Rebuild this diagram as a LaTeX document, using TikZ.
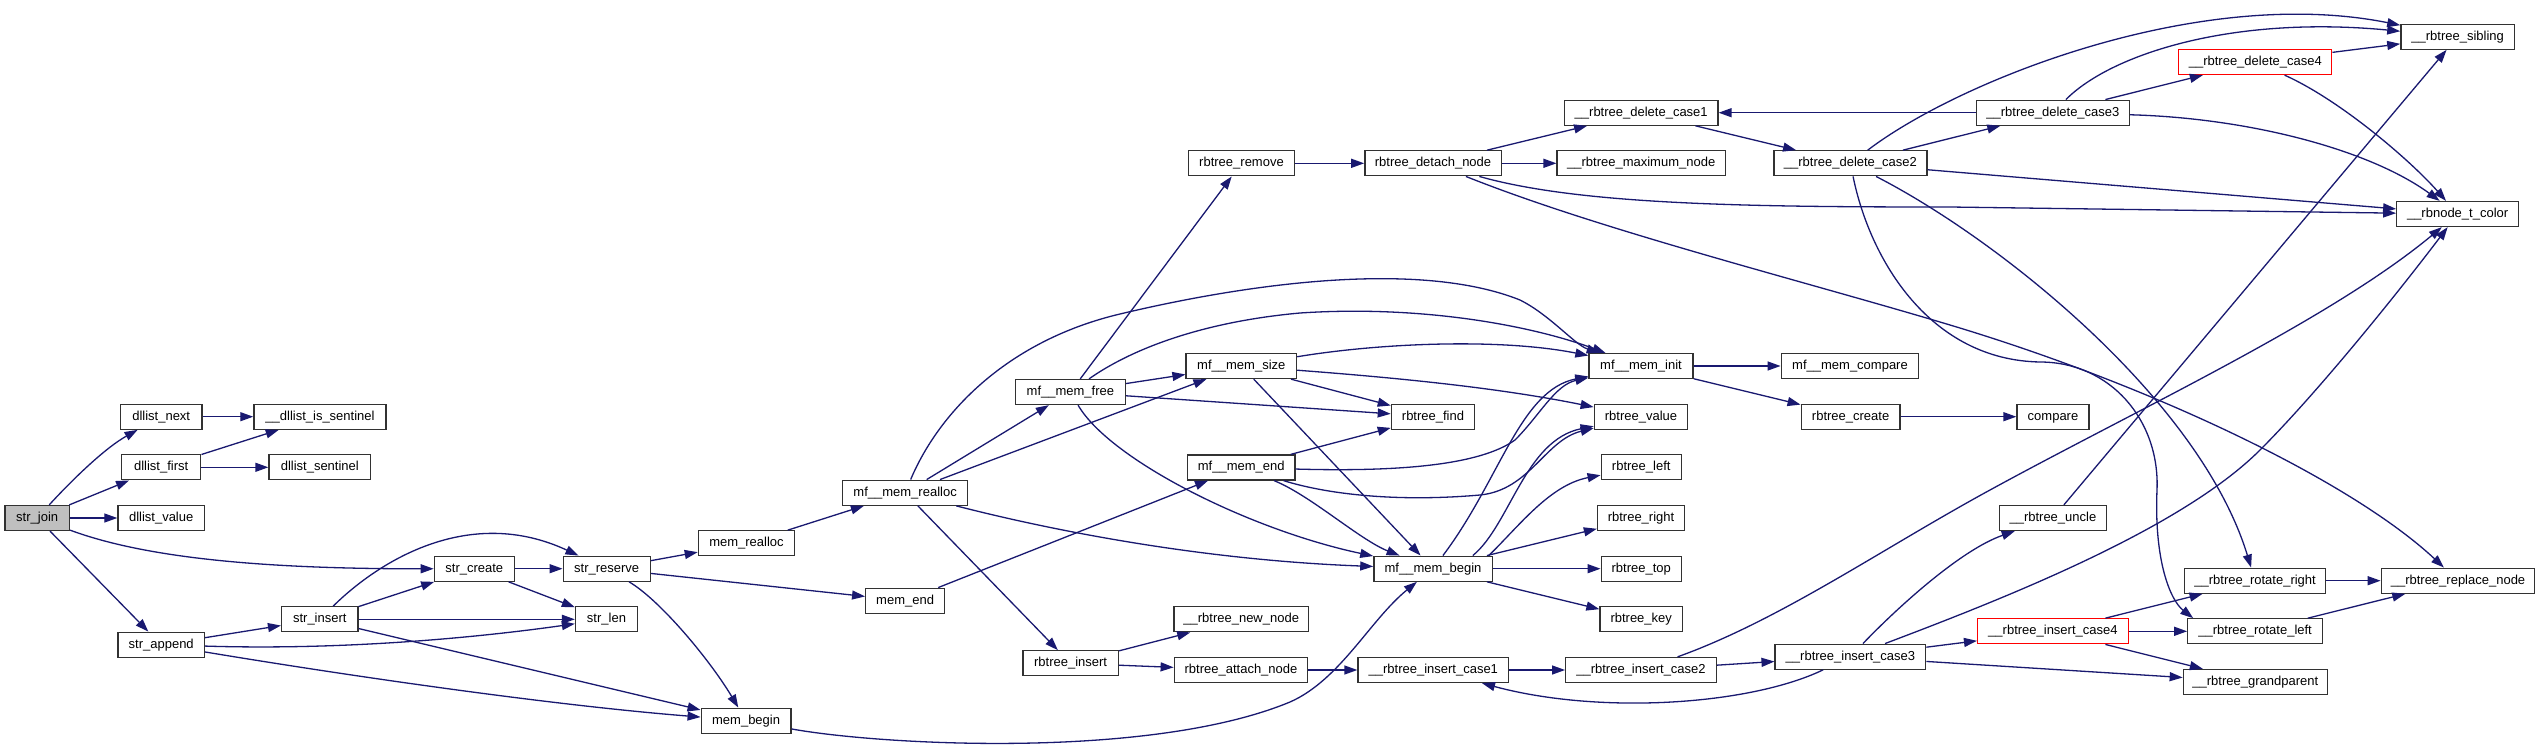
\documentclass[tikz,border=0pt]{standalone}
\usepackage{fontspec}
\setmainfont{Liberation Sans}
\usetikzlibrary{arrows.meta}
\definecolor{edgec}{RGB}{25,25,112}
\definecolor{rootfill}{RGB}{191,191,191}
\definecolor{nodeborder}{RGB}{50,50,50}
\begin{document}
\begin{tikzpicture}[x=1pt,y=-1pt,
  box/.style={draw=nodeborder, line width=1.3pt, fill=white, minimum height=25pt,
    inner sep=0pt, font=\fontsize{13}{15}\selectfont, text height=9.5pt, text depth=2.8pt},
  rootbox/.style={box, fill=rootfill},
  redbox/.style={box, draw=red},
  edg/.style={draw=edgec, line width=1.3pt, -{Triangle[length=13pt,width=9pt]}}]
\useasboundingbox[fill=white] (0,0) rectangle (2541,755);
% column 0-2
\node[rootbox, minimum width=64.5pt] (sj) at (37.2,518) {str\_join};
\node[box, minimum width=81.6pt] (dnext) at (161.2,416.7) {dllist\_next};
\node[box, minimum width=79.2pt] (dfirst) at (161.2,467.3) {dllist\_first};
\node[box, minimum width=86.5pt] (dvalue) at (161.2,518) {dllist\_value};
\node[box, minimum width=86.5pt] (sappend) at (161.2,644.7) {str\_append};
\node[box, minimum width=132.2pt] (dsent) at (320,416.7) {\_\_dllist\_is\_sentinel};
\node[box, minimum width=101.6pt] (dsentinel) at (319.8,467.3) {dllist\_sentinel};
\node[box, minimum width=76.4pt] (sinsert) at (319.8,619.3) {str\_insert};
\node[box, minimum width=80pt] (screate) at (474.3,568.7) {str\_create};
\node[box, minimum width=87pt] (sreserve) at (606.7,568.7) {str\_reserve};
\node[box, minimum width=62pt] (slen) at (606.5,619.3) {str\_len};
\node[box, minimum width=96.3pt] (mrealloc) at (746.5,543.3) {mem\_realloc};
\node[box, minimum width=89.8pt] (mbegin) at (746.1,720.7) {mem\_begin};
\node[box, minimum width=125.4pt] (mfrealloc) at (905.1,492.7) {mf\_\_mem\_realloc};
\node[box, minimum width=78.8pt] (mend) at (905.1,600.7) {mem\_end};
\node[box, minimum width=109.8pt] (mffree) at (1070.4,392) {mf\_\_mem\_free};
\node[box, minimum width=95.5pt] (rinsert) at (1070.6,663.3) {rbtree\_insert};
\node[box, minimum width=105.7pt] (rremove) at (1241.5,163.3) {rbtree\_remove};
\node[box, minimum width=110.5pt] (mfsize) at (1241.3,366) {mf\_\_mem\_size};
\node[box, minimum width=107.7pt] (mfend) at (1241.2,467.5) {mf\_\_mem\_end};
\node[box, minimum width=134.7pt] (newnode) at (1241.2,619.3) {\_\_rbtree\_new\_node};
\node[box, minimum width=133.5pt] (attach) at (1241,670) {rbtree\_attach\_node};
\node[box, minimum width=136.3pt] (detach) at (1433,163.3) {rbtree\_detach\_node};
\node[box, minimum width=83.3pt] (rfind) at (1433,416.7) {rbtree\_find};
\node[box, minimum width=118.3pt] (mfbegin) at (1433,568.7) {mf\_\_mem\_begin};
\node[box, minimum width=150.6pt] (ic1) at (1433.3,670) {\_\_rbtree\_insert\_case1};
\node[box, minimum width=153.5pt] (dc1) at (1641.2,112.7) {\_\_rbtree\_delete\_case1};
\node[box, minimum width=168.2pt] (maxnode) at (1641.2,163.3) {\_\_rbtree\_maximum\_node};
\node[box, minimum width=104pt] (mfinit) at (1641,366) {mf\_\_mem\_init};
\node[box, minimum width=93.5pt] (rvalue) at (1641,416.7) {rbtree\_value};
\node[box, minimum width=80pt] (rleft) at (1641.2,467.3) {rbtree\_left};
\node[box, minimum width=87pt] (rright) at (1641,518) {rbtree\_right};
\node[box, minimum width=80pt] (rtop) at (1641.2,568.7) {rbtree\_top};
\node[box, minimum width=82.4pt] (rkey) at (1641.2,619.3) {rbtree\_key};
\node[box, minimum width=150.6pt] (ic2) at (1641,670) {\_\_rbtree\_insert\_case2};
\node[box, minimum width=153pt] (dc2) at (1850.4,163.3) {\_\_rbtree\_delete\_case2};
\node[box, minimum width=137.6pt] (mfcompare) at (1850,366) {mf\_\_mem\_compare};
\node[box, minimum width=98.8pt] (rcreate) at (1850.6,416.7) {rbtree\_create};
\node[box, minimum width=150.6pt] (ic3) at (1850.4,656.7) {\_\_rbtree\_insert\_case3};
\node[box, minimum width=153pt] (dc3) at (2052.9,112.7) {\_\_rbtree\_delete\_case3};
\node[box, minimum width=72pt] (cmp) at (2053,416.7) {compare};
\node[box, minimum width=106.5pt] (uncle) at (2052.9,518) {\_\_rbtree\_uncle};
\node[redbox, minimum width=150.6pt] (ic4) at (2052.9,631.3) {\_\_rbtree\_insert\_case4};
\node[redbox, minimum width=153pt] (dc4) at (2255.3,62) {\_\_rbtree\_delete\_case4};
\node[box, minimum width=141.2pt] (rotr) at (2255.1,580.7) {\_\_rbtree\_rotate\_right};
\node[box, minimum width=134.6pt] (rotl) at (2255.1,631.3) {\_\_rbtree\_rotate\_left};
\node[box, minimum width=144pt] (gparent) at (2255.3,682) {\_\_rbtree\_grandparent};
\node[box, minimum width=113.5pt] (sibling) at (2457.6,36.7) {\_\_rbtree\_sibling};
\node[box, minimum width=121.7pt] (color) at (2457.6,214) {\_\_rbnode\_t\_color};
\node[box, minimum width=153.5pt] (replace) at (2458,580.7) {\_\_rbtree\_replace\_node};
% edges
\draw[edg] (sj) .. controls (72,480) and (105,448) .. (dnext);
\draw[edg] (sj) -- (dfirst);
\draw[edg] (sj) -- (dvalue);
\draw[edg] (sj) .. controls (140,556) and (250,569) .. (screate);
\draw[edg] (sj) -- (sappend);
\draw[edg] (dnext) -- (dsent);
\draw[edg] (dfirst) -- (dsent);
\draw[edg] (dfirst) -- (dsentinel);
\draw[edg] (sappend) -- (sinsert);
\draw[edg] (sappend) .. controls (330,650) and (460,640) .. (slen);
\draw[edg] (sappend) .. controls (350,676) and (550,705) .. (mbegin);
\draw[edg] (sinsert) -- (screate);
\draw[edg] (sinsert) .. controls (380,560) and (470,505) .. (sreserve);
\draw[edg] (sinsert) -- (slen);
\draw[edg] (sinsert) -- (mbegin);
\draw[edg] (screate) -- (sreserve);
\draw[edg] (screate) -- (slen);
\draw[edg] (sreserve) -- (mrealloc);
\draw[edg] (sreserve) -- (mend);
\draw[edg] (sreserve) .. controls (660,600) and (710,660) .. (mbegin);
\draw[edg] (mrealloc) -- (mfrealloc);
\draw[edg] (mfrealloc) -- (mffree);
\draw[edg] (mfrealloc) -- (mfsize);
\draw[edg] (mfrealloc) .. controls (940,410) and (1010,340) .. (1120,314) .. controls (1250,283) and (1420,260) .. (1520,300) .. controls (1550,315) and (1575,345) .. (mfinit);
\draw[edg] (mfrealloc) .. controls (1050,530) and (1200,560) .. (mfbegin);
\draw[edg] (mfrealloc) -- (rinsert);
\draw[edg] (mend) -- (mfend);
\draw[edg] (mbegin) .. controls (880,745) and (1150,760) .. (1290,702) .. controls (1340,680) and (1370,620) .. (mfbegin);
\draw[edg] (mffree) -- (rremove);
\draw[edg] (mffree) -- (mfsize);
\draw[edg] (mffree) .. controls (1130,350) and (1200,322) .. (1300,313) .. controls (1420,305) and (1530,325) .. (mfinit);
\draw[edg] (mffree) -- (rfind);
\draw[edg] (mffree) .. controls (1110,460) and (1250,530) .. (mfbegin);
\draw[edg] (mfsize) .. controls (1380,343) and (1500,338) .. (mfinit);
\draw[edg] (mfsize) -- (rfind);
\draw[edg] (mfsize) .. controls (1400,378) and (1500,388) .. (rvalue);
\draw[edg] (mfsize) -- (mfbegin);
\draw[edg] (mfend) -- (rfind);
\draw[edg] (mfend) .. controls (1400,472) and (1480,465) .. (1515,440) .. controls (1540,415) and (1555,385) .. (mfinit);
\draw[edg] (mfend) .. controls (1330,495) and (1400,502) .. (1480,495) .. controls (1530,490) and (1545,440) .. (rvalue);
\draw[edg] (mfend) .. controls (1310,495) and (1360,540) .. (mfbegin);
\draw[edg] (mfbegin) .. controls (1500,480) and (1520,390) .. (mfinit);
\draw[edg] ([xshift=-20pt]mfbegin.north east) .. controls (1510,525) and (1525,440) .. (rvalue);
\draw[edg] ([xshift=-4pt]mfbegin.north east) .. controls (1520,525) and (1550,485) .. (rleft);
\draw[edg] (mfbegin) -- (rright);
\draw[edg] (mfbegin) -- (rtop);
\draw[edg] (mfbegin) -- (rkey);
\draw[edg] (mfinit) -- (mfcompare);
\draw[edg] (mfinit) -- (rcreate);
\draw[edg] (rcreate) -- (cmp);
\draw[edg] (rinsert) -- (newnode);
\draw[edg] (rinsert) -- (attach);
\draw[edg] (attach) -- (ic1);
\draw[edg] (ic1) -- (ic2);
\draw[edg] (ic2) -- (ic3);
\draw[edg] (ic3) .. controls (1750,705) and (1600,715) .. (ic1);
\draw[edg] (ic3) .. controls (1895,610) and (1960,550) .. (uncle);
\draw[edg] (ic3) .. controls (2000,600) and (2180,530) .. (2260,450) .. controls (2320,390) and (2400,290) .. (color);
\draw[edg] (ic2) .. controls (1780,620) and (1880,550) .. (1990,490) .. controls (2140,408) and (2330,320) .. (color);
\draw[edg] (ic3) -- (ic4);
\draw[edg] (ic3) -- (gparent);
\draw[edg] (uncle) -- (sibling);
\draw[edg] (ic4) -- (rotr);
\draw[edg] (ic4) -- (rotl);
\draw[edg] (ic4) -- (gparent);
\draw[edg] (rotr) -- (replace);
\draw[edg] (rotl) -- (replace);
\draw[edg] (rremove) -- (detach);
\draw[edg] (detach) -- (dc1);
\draw[edg] (detach) -- (maxnode);
\draw[edg] (detach) .. controls (1580,205) and (1750,207) .. (1950,207) -- (color);
\draw[edg] (detach) .. controls (1600,230) and (1800,280) .. (1950,325) .. controls (2150,385) and (2350,480) .. (replace);
\draw[edg] (dc1) -- (dc2);
\draw[edg] (dc2) -- (dc3);
\draw[edg] (dc2) .. controls (1960,80) and (2200,-15) .. (sibling);
\draw[edg] (dc2) -- (color);
\draw[edg] (dc2) .. controls (2000,240) and (2200,400) .. (rotr);
\draw[edg] (dc2) .. controls (1870,260) and (1930,360) .. (2040,362) .. controls (2110,362) and (2160,420) .. (2157,490) .. controls (2154,560) and (2170,600) .. ([xshift=6pt]rotl.north west);
\draw[edg] (dc3) -- (dc1);
\draw[edg] (dc3) -- (dc4);
\draw[edg] (dc3) .. controls (2110,55) and (2230,15) .. (sibling);
\draw[edg] (dc3) .. controls (2250,118) and (2370,150) .. (color);
\draw[edg] (dc4) -- (sibling);
\draw[edg] (dc4) .. controls (2340,100) and (2410,160) .. (color);
\end{tikzpicture}
\end{document}
